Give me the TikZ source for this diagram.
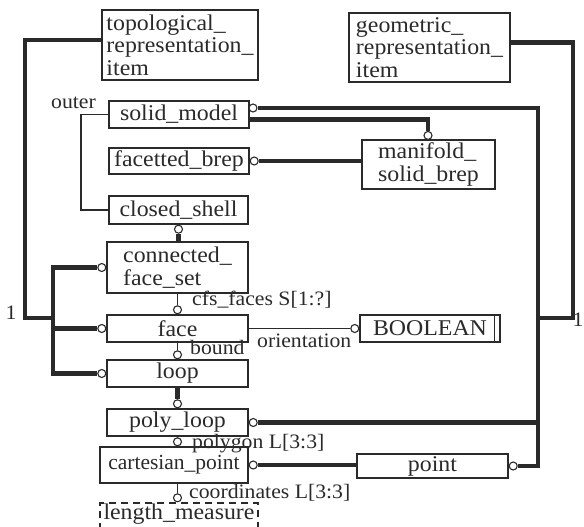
\documentclass[tikz,border=0pt]{standalone}
\usepackage{fontspec}
\setmainfont{Liberation Serif}[FakeStretch=1.06]
\newfontfamily\plainserif{Liberation Serif}
\usetikzlibrary{backgrounds}
\definecolor{ink}{HTML}{2A2A2A}
\begin{document}
\begin{tikzpicture}[x=1pt,y=-1pt,
  ent/.style={draw=ink,fill=white,line width=1.3pt,inner sep=0pt,font=\fontsize{22.5}{22.5}\selectfont,align=left,text=ink},
  lbl/.style={font=\fontsize{20.5}{22}\selectfont,inner sep=0pt,text=ink},
  subl/.style={line width=4.5pt,draw=ink},
  rel/.style={line width=1.3pt,draw=ink},
  oc/.style={circle,draw=ink,fill=white,line width=1.1pt,minimum size=8pt,inner sep=0pt}]
\useasboundingbox (0,0) rectangle (584,527);
\clip (0,0) rectangle (584,527);
% entities
\node[ent,minimum width=156pt,minimum height=70pt] (topo) at (180,45) {topological\_\\representation\_\\item};
\node[ent,minimum width=161pt,minimum height=69pt] (geo) at (429.5,47.5) {geometric\_\\representation\_\\item};
\node[ent,minimum width=140pt,minimum height=27pt] (solid) at (179,114.5) {solid\_model};
\node[ent,minimum width=140pt,minimum height=26pt] (facet) at (179,161) {facetted\_brep};
\node[ent,minimum width=139pt,minimum height=28pt] (closed) at (178.5,210) {closed\_shell};
\node[ent,minimum width=133pt,minimum height=49pt] (manifold) at (428.5,164.5) {manifold\_\\solid\_brep};
\node[ent,minimum width=141pt,minimum height=51pt] (cfs) at (177.5,267.5) {connected\_\\face\_set};
\node[ent,minimum width=141pt,minimum height=27pt] (face) at (177.5,328.5) {face};
\node[ent,minimum width=141pt,minimum height=27pt] (loop) at (177.5,373.5) {loop};
\node[ent,minimum width=141pt,minimum height=27pt] (poly) at (177.5,422.5) {poly\_loop};
\node[ent,minimum width=148pt,minimum height=36pt,font=\plainserif\fontsize{21.5}{22.5}\selectfont] (cart) at (174,465) {cartesian\_point};
\node[ent,minimum width=158pt,text height=16pt,text depth=20pt,dashed,dash pattern=on 7pt off 5pt,anchor=base] (lm) at (179,519) {length\_measure};
\node[ent,minimum width=140pt,minimum height=27pt] (bool) at (430,328.5) {BOOLEAN};
\draw[rel] ([xshift=-6pt]bool.north east) -- ([xshift=-6pt]bool.south east);
\node[ent,minimum width=151pt,minimum height=24pt] (point) at (432.5,466) {point};
% circles
\node[oc,anchor=east] (cA) at (cfs.west) {};
\node[oc,anchor=east] (cB) at (face.west) {};
\node[oc,anchor=east] (cC) at (loop.west) {};
\node[oc,anchor=north] (cD) at (closed.south) {};
\node[oc,anchor=south] (cE) at (face.north) {};
\node[oc,anchor=south] (cF) at (loop.north) {};
\node[oc,anchor=south] (cG) at (poly.north) {};
\node[oc,anchor=south] (cH) at (poly.south |- cart.north) {};
\node[oc,anchor=south] (cI) at (poly.south |- lm.north) {};
\node[oc,anchor=east] (cJ) at (bool.west) {};
\node[oc,anchor=west] (cK) at (cart.east) {};
\node[oc,anchor=west] (cL) at (point.east) {};
\node[oc,anchor=west] (cM) at (poly.east) {};
\node[oc] (cN) at (253,108) {};
\node[oc,anchor=south] (cO) at (428,140) {};
\node[oc,anchor=west] (cP) at (facet.east) {};
\coordinate (gv) at (538,0);
% connectors
\begin{scope}[on background layer]
\draw[subl] ([yshift=5pt]topo.west) -| (25,318) -- (53,318);
\draw[subl] (cA.west) -- (cA.west -| 53,0) -- (cC.west -| 53,0) -- (cC.west);
\draw[subl] (cB.west) -- (cB.west -| 53,0);
\draw[rel] (solid.west) -| (81,210) -- (closed.west);
\draw[subl] (cD.south) -- (cD.south |- cfs.north);
\draw[rel] (cfs.south) -- (cE.north);
\draw[rel] (face.south) -- (cF.north);
\draw[subl] (loop.south) -- (cG.north);
\draw[rel] (poly.south) -- (cH.north);
\draw[rel] (cart.south -| cI.north) -- (cI.north);
\draw[rel] (face.east) -- (cJ.west);
\draw[subl] (cK.east) -- (cK.east -| point.west);
\draw[subl] (cL.east) -| (gv |- cN.east) -- (cN.east);
\draw[subl] (cM.east) -- (cM.east -| gv);
\draw[subl] ([yshift=5pt]geo.east) -| (573,318) -- (538,318);
\draw[subl] ([yshift=-5pt]solid.east) -| (cO.north);
\draw[subl] (cP.east) -- (cP.east -| manifold.west);
\end{scope}
% labels
\node[lbl,anchor=base east] (louter) at (96,108) {outer};
\node[lbl] (lone) at (11,313) {1};
\node[lbl] (ltwo) at (578,320) {1};
\node[lbl,anchor=base west] (lcfs) at (192,305) {cfs\_faces S[1:?]};
\node[lbl,anchor=base west] (lbound) at (190,354) {bound};
\node[lbl,anchor=base west] (lor) at (257,347) {orientation};
\node[lbl,anchor=base west] (lpoly) at (192,448) {polygon L[3:3]};
\node[lbl,anchor=base west] (lcoord) at (189,498) {coordinates L[3:3]};
\end{tikzpicture}
\end{document}
